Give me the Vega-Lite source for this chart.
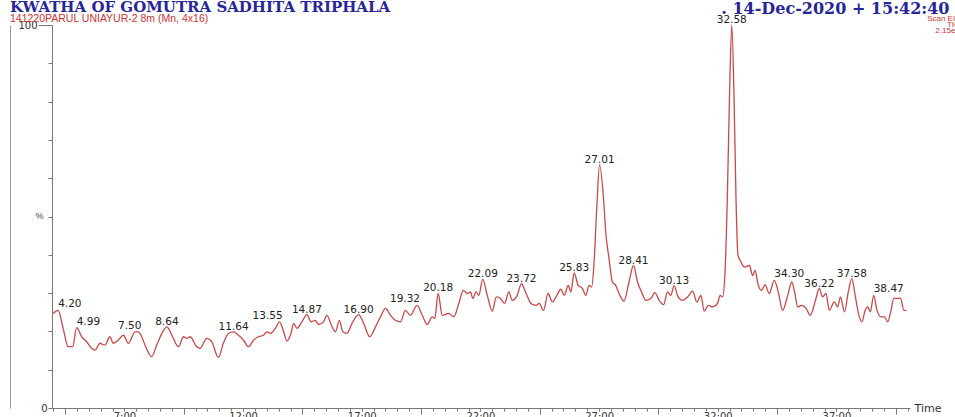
{
  "$schema": "https://vega.github.io/schema/vega-lite/v6.json",
  "width": 858,
  "height": 383,
  "autosize": {"type": "none"},
  "padding": {"left": 52, "top": 25, "right": 45, "bottom": 9},
  "background": "white",
  "config": {"view": {"stroke": null}, "font": "Liberation Sans"},
  "title": {
    "text": "KWATHA OF GOMUTRA SADHITA TRIPHALA",
    "subtitle": "141220PARUL UNIAYUR-2 8m (Mn, 4x16)",
    "anchor": "start",
    "frame": "group",
    "dx": -42,
    "dy": 27,
    "offset": 3,
    "font": "DejaVu Serif",
    "fontWeight": "bold",
    "fontSize": 15,
    "color": "#26269a",
    "subtitleFont": "Liberation Sans",
    "subtitleFontSize": 10.5,
    "subtitleColor": "#cc3333",
    "subtitlePadding": -1
  },
  "datasets": {
    "trace": [
      {"t": 4.00, "v": 24.7}, {"t": 4.21, "v": 25.5}, {"t": 4.42, "v": 20.8}, {"t": 4.63, "v": 16.0}, {"t": 4.82, "v": 16.0},
      {"t": 4.99, "v": 21.0}, {"t": 5.20, "v": 18.6}, {"t": 5.41, "v": 17.3}, {"t": 5.62, "v": 15.6}, {"t": 5.76, "v": 15.1},
      {"t": 5.97, "v": 16.9}, {"t": 6.18, "v": 16.4}, {"t": 6.39, "v": 18.6}, {"t": 6.53, "v": 16.9}, {"t": 6.74, "v": 17.7},
      {"t": 6.96, "v": 19.0}, {"t": 7.17, "v": 16.9}, {"t": 7.45, "v": 19.9}, {"t": 7.59, "v": 19.9}, {"t": 7.73, "v": 18.6},
      {"t": 7.87, "v": 16.4}, {"t": 8.15, "v": 13.4}, {"t": 8.36, "v": 16.4}, {"t": 8.58, "v": 19.5}, {"t": 8.79, "v": 21.2},
      {"t": 9.00, "v": 19.0}, {"t": 9.28, "v": 16.0}, {"t": 9.49, "v": 18.6}, {"t": 9.63, "v": 18.2}, {"t": 9.77, "v": 18.6},
      {"t": 10.05, "v": 16.0}, {"t": 10.19, "v": 15.6}, {"t": 10.47, "v": 18.2}, {"t": 10.68, "v": 17.3}, {"t": 10.96, "v": 13.2},
      {"t": 11.17, "v": 16.9}, {"t": 11.39, "v": 19.5}, {"t": 11.60, "v": 19.9}, {"t": 11.81, "v": 19.0}, {"t": 12.02, "v": 17.7},
      {"t": 12.23, "v": 16.0}, {"t": 12.44, "v": 17.7}, {"t": 12.65, "v": 18.6}, {"t": 12.86, "v": 19.0}, {"t": 13.00, "v": 19.9},
      {"t": 13.15, "v": 19.5}, {"t": 13.36, "v": 20.8}, {"t": 13.54, "v": 22.5}, {"t": 13.71, "v": 19.9}, {"t": 13.85, "v": 17.5},
      {"t": 14.02, "v": 19.5}, {"t": 14.13, "v": 22.1}, {"t": 14.27, "v": 20.8}, {"t": 14.48, "v": 22.5}, {"t": 14.69, "v": 24.4},
      {"t": 14.87, "v": 22.5}, {"t": 15.04, "v": 22.9}, {"t": 15.18, "v": 21.8}, {"t": 15.39, "v": 22.5}, {"t": 15.53, "v": 24.2},
      {"t": 15.75, "v": 21.2}, {"t": 15.89, "v": 19.9}, {"t": 16.06, "v": 22.9}, {"t": 16.20, "v": 19.9}, {"t": 16.38, "v": 19.5},
      {"t": 16.59, "v": 22.1}, {"t": 16.87, "v": 24.4}, {"t": 17.08, "v": 22.1}, {"t": 17.34, "v": 18.6}, {"t": 17.55, "v": 20.8},
      {"t": 17.79, "v": 23.8}, {"t": 18.00, "v": 26.0}, {"t": 18.21, "v": 24.2}, {"t": 18.42, "v": 22.9}, {"t": 18.63, "v": 22.5},
      {"t": 18.84, "v": 25.5}, {"t": 19.05, "v": 24.2}, {"t": 19.33, "v": 26.8}, {"t": 19.55, "v": 24.2}, {"t": 19.76, "v": 21.8},
      {"t": 19.97, "v": 23.8}, {"t": 20.08, "v": 23.4}, {"t": 20.22, "v": 29.9}, {"t": 20.39, "v": 24.2}, {"t": 20.67, "v": 24.7},
      {"t": 20.88, "v": 23.8}, {"t": 21.09, "v": 27.3}, {"t": 21.28, "v": 30.7}, {"t": 21.45, "v": 29.9}, {"t": 21.58, "v": 30.3},
      {"t": 21.68, "v": 28.6}, {"t": 21.82, "v": 30.3}, {"t": 21.93, "v": 29.4}, {"t": 22.10, "v": 33.6}, {"t": 22.29, "v": 29.4},
      {"t": 22.50, "v": 25.3}, {"t": 22.67, "v": 29.0}, {"t": 22.85, "v": 28.6}, {"t": 23.02, "v": 27.3}, {"t": 23.20, "v": 30.3},
      {"t": 23.34, "v": 28.1}, {"t": 23.55, "v": 29.4}, {"t": 23.73, "v": 32.5}, {"t": 23.90, "v": 30.3}, {"t": 24.13, "v": 27.3},
      {"t": 24.34, "v": 26.8}, {"t": 24.48, "v": 27.3}, {"t": 24.66, "v": 25.5}, {"t": 24.85, "v": 29.9}, {"t": 25.04, "v": 27.7},
      {"t": 25.22, "v": 29.4}, {"t": 25.39, "v": 31.0}, {"t": 25.53, "v": 29.4}, {"t": 25.70, "v": 32.0}, {"t": 25.81, "v": 30.3},
      {"t": 25.95, "v": 35.3}, {"t": 26.12, "v": 32.0}, {"t": 26.30, "v": 31.2}, {"t": 26.44, "v": 29.4}, {"t": 26.58, "v": 32.0},
      {"t": 26.69, "v": 31.6}, {"t": 26.79, "v": 38.1}, {"t": 26.90, "v": 51.9}, {"t": 27.02, "v": 63.5}, {"t": 27.19, "v": 54.5},
      {"t": 27.28, "v": 45.9}, {"t": 27.42, "v": 39.0}, {"t": 27.56, "v": 32.9}, {"t": 27.70, "v": 32.0}, {"t": 27.84, "v": 29.9},
      {"t": 28.05, "v": 27.9}, {"t": 28.26, "v": 32.9}, {"t": 28.45, "v": 37.2}, {"t": 28.62, "v": 32.9}, {"t": 28.79, "v": 30.3},
      {"t": 28.97, "v": 28.1}, {"t": 29.18, "v": 28.6}, {"t": 29.35, "v": 30.1}, {"t": 29.53, "v": 28.1}, {"t": 29.72, "v": 27.0},
      {"t": 29.88, "v": 30.3}, {"t": 30.02, "v": 29.4}, {"t": 30.16, "v": 31.9}, {"t": 30.33, "v": 29.0}, {"t": 30.52, "v": 28.1},
      {"t": 30.73, "v": 29.0}, {"t": 30.94, "v": 30.5}, {"t": 31.12, "v": 27.7}, {"t": 31.29, "v": 29.4}, {"t": 31.43, "v": 25.3},
      {"t": 31.60, "v": 26.8}, {"t": 31.78, "v": 26.4}, {"t": 31.99, "v": 27.3}, {"t": 32.10, "v": 29.4}, {"t": 32.20, "v": 29.0},
      {"t": 32.30, "v": 34.6}, {"t": 32.40, "v": 54.0}, {"t": 32.49, "v": 80.0}, {"t": 32.59, "v": 100.0}, {"t": 32.69, "v": 80.0},
      {"t": 32.77, "v": 54.5}, {"t": 32.85, "v": 40.0}, {"t": 32.98, "v": 38.1}, {"t": 33.12, "v": 36.8}, {"t": 33.33, "v": 37.2},
      {"t": 33.47, "v": 34.6}, {"t": 33.57, "v": 35.9}, {"t": 33.71, "v": 32.0}, {"t": 33.85, "v": 30.7}, {"t": 33.99, "v": 32.2},
      {"t": 34.17, "v": 29.9}, {"t": 34.38, "v": 33.3}, {"t": 34.55, "v": 30.3}, {"t": 34.73, "v": 25.5}, {"t": 34.95, "v": 29.4},
      {"t": 35.12, "v": 32.9}, {"t": 35.25, "v": 29.9}, {"t": 35.37, "v": 26.4}, {"t": 35.54, "v": 26.8}, {"t": 35.72, "v": 26.0},
      {"t": 35.90, "v": 24.2}, {"t": 36.10, "v": 27.7}, {"t": 36.28, "v": 31.2}, {"t": 36.42, "v": 29.0}, {"t": 36.56, "v": 29.9},
      {"t": 36.70, "v": 25.5}, {"t": 36.91, "v": 27.7}, {"t": 37.05, "v": 26.4}, {"t": 37.17, "v": 29.0}, {"t": 37.34, "v": 25.1},
      {"t": 37.50, "v": 30.3}, {"t": 37.65, "v": 33.8}, {"t": 37.79, "v": 29.4}, {"t": 37.93, "v": 24.7}, {"t": 38.07, "v": 22.5},
      {"t": 38.21, "v": 25.5}, {"t": 38.32, "v": 26.4}, {"t": 38.43, "v": 25.1}, {"t": 38.57, "v": 29.4}, {"t": 38.71, "v": 25.5},
      {"t": 38.88, "v": 23.8}, {"t": 39.02, "v": 23.8}, {"t": 39.16, "v": 22.5}, {"t": 39.30, "v": 25.5}, {"t": 39.42, "v": 28.7},
      {"t": 39.56, "v": 28.6}, {"t": 39.70, "v": 28.7}, {"t": 39.84, "v": 25.5}, {"t": 39.95, "v": 25.5}
    ],
    "peaks": [
      {"t": 4.21, "v": 25.5, "label": "4.20"},
      {"t": 4.99, "v": 21.0, "label": "4.99"},
      {"t": 7.59, "v": 19.9, "label": "7.50"},
      {"t": 8.79, "v": 21.2, "label": "8.64"},
      {"t": 11.60, "v": 19.9, "label": "11.64"},
      {"t": 13.54, "v": 22.5, "label": "13.55"},
      {"t": 14.69, "v": 24.4, "label": "14.87"},
      {"t": 16.87, "v": 24.4, "label": "16.90"},
      {"t": 19.33, "v": 26.8, "label": "19.32"},
      {"t": 20.22, "v": 29.9, "label": "20.18"},
      {"t": 22.10, "v": 33.6, "label": "22.09"},
      {"t": 23.73, "v": 32.5, "label": "23.72"},
      {"t": 25.95, "v": 35.3, "label": "25.83"},
      {"t": 27.02, "v": 63.5, "label": "27.01"},
      {"t": 28.45, "v": 37.2, "label": "28.41"},
      {"t": 30.16, "v": 31.9, "label": "30.13"},
      {"t": 32.59, "v": 100.0, "label": "32.58"},
      {"t": 34.38, "v": 33.3, "label": "34.30"},
      {"t": 36.28, "v": 31.2, "label": "36.22"},
      {"t": 37.65, "v": 33.8, "label": "37.58"},
      {"t": 38.57, "v": 29.4, "label": "38.47"}
    ],
    "header": [
      {"t": 32.15, "v": 102.9, "label": ". 14-Dec-2020 + 15:42:40", "kind": "date"},
      {"t": 42.2, "v": 101.1, "label": "Scan EI+", "kind": "info"},
      {"t": 42.2, "v": 99.55, "label": "TIC", "kind": "info"},
      {"t": 42.2, "v": 98.0, "label": "2.15e8", "kind": "info"}
    ]
  },
  "resolve": {"axis": {"x": "independent", "y": "independent"}},
  "layer": [
    {
      "data": {"name": "trace"},
      "mark": {"type": "line", "interpolate": "monotone", "color": "#c94848", "strokeWidth": 1.3, "clip": false},
      "encoding": {
        "x": {
          "field": "t", "type": "quantitative",
          "scale": {"domain": [3.95, 40.1], "nice": false, "zero": false},
          "axis": {
            "orient": "bottom",
            "values": [7, 12, 17, 22, 27, 32, 37],
            "format": ".2f",
            "labelExpr": "replace(datum.label, '.', ':')",
            "tickSize": 3,
            "grid": false,
            "domainColor": "#777",
            "tickColor": "#777",
            "labelFont": "DejaVu Sans",
            "labelFontSize": 10,
            "labelColor": "#333",
            "labelPadding": 0,
            "labelOverlap": false,
            "labelFlush": false,
            "title": "Time",
            "titleX": 862,
            "titleY": 0,
            "titleAlign": "left",
            "titleBaseline": "middle",
            "titleFont": "DejaVu Sans",
            "titleFontWeight": "normal",
            "titleFontSize": 11,
            "titleColor": "#333"
          }
        },
        "y": {
          "field": "v", "type": "quantitative",
          "scale": {"domain": [0, 100], "nice": false},
          "axis": {
            "values": [0,10,20,30,40,50,60,70,80,90,100],
            "labelExpr": "datum.value == 0 || datum.value == 100 ? datum.label : ''",
            "tickSize": {"condition": {"test": "datum.value == 100", "value": 14}, "value": 4},
            "grid": false,
            "domainColor": "#777",
            "tickColor": "#777",
            "labelFont": "DejaVu Sans",
            "labelFontSize": 10,
            "labelColor": "#333",
            "labelPadding": 1,
            "labelOverlap": false,
            "title": "%",
            "titleAngle": 0,
            "titleX": -13,
            "titleY": 190,
            "titleAlign": "center",
            "titleBaseline": "middle",
            "titleFontWeight": "normal",
            "titleFontSize": 9,
            "titleColor": "#444"
          }
        }
      }
    },
    {
      "data": {"name": "peaks"},
      "transform": [{"filter": "indexof(['4.20','4.99','7.50','13.55','19.32','34.30','38.47'], datum.label) < 0"}],
      "mark": {"type": "text", "font": "DejaVu Sans", "fontSize": 10.5, "color": "#222", "align": "center", "baseline": "alphabetic", "dy": -2},
      "encoding": {
        "x": {
          "field": "t", "type": "quantitative",
          "axis": {
            "orient": "bottom",
            "values": [4,4.5,5,5.5,6,6.5,7,7.5,8,8.5,9,9.5,10,10.5,11,11.5,12,12.5,13,13.5,14,14.5,15,15.5,16,16.5,17,17.5,18,18.5,19,19.5,20,20.5,21,21.5,22,22.5,23,23.5,24,24.5,25,25.5,26,26.5,27,27.5,28,28.5,29,29.5,30,30.5,31,31.5,32,32.5,33,33.5,34,34.5,35,35.5,36,36.5,37,37.5,38,38.5,39,39.5,40],
            "labels": false,
            "domain": false,
            "grid": false,
            "title": null,
            "tickColor": "#777",
            "tickSize": {"condition": {"test": "(datum.value - 4.5) % 5 == 0", "value": 6}, "value": 3}
          }
        },
        "y": {"field": "v", "type": "quantitative", "axis": {"orient": "left", "offset": 42, "ticks": false, "labels": false, "title": null, "grid": false, "domainColor": "#999"}},
        "text": {"field": "label"}
      }
    },
    {
      "data": {"name": "peaks"},
      "transform": [{"filter": "indexof(['4.20','4.99','34.30','38.47'], datum.label) >= 0"}],
      "mark": {"type": "text", "font": "DejaVu Sans", "fontSize": 10.5, "color": "#222", "align": "left", "baseline": "alphabetic", "dy": -3, "dx": 0},
      "encoding": {
        "x": {"field": "t", "type": "quantitative", "axis": null},
        "y": {"field": "v", "type": "quantitative", "axis": null},
        "text": {"field": "label"}
      }
    },
    {
      "data": {"name": "peaks"},
      "transform": [{"filter": "indexof(['7.50','13.55','19.32'], datum.label) >= 0"}],
      "mark": {"type": "text", "font": "DejaVu Sans", "fontSize": 10.5, "color": "#222", "align": "right", "baseline": "alphabetic", "dy": -3, "dx": 3},
      "encoding": {
        "x": {"field": "t", "type": "quantitative", "axis": null},
        "y": {"field": "v", "type": "quantitative", "axis": null},
        "text": {"field": "label"}
      }
    },
    {
      "data": {"name": "header"},
      "transform": [{"filter": "datum.kind == 'date'"}],
      "mark": {"type": "text", "font": "DejaVu Serif", "fontWeight": "bold", "fontSize": 16, "color": "#26269a", "align": "left", "baseline": "alphabetic"},
      "encoding": {
        "x": {"field": "t", "type": "quantitative", "axis": null},
        "y": {"field": "v", "type": "quantitative", "axis": null},
        "text": {"field": "label"}
      }
    },
    {
      "data": {"name": "header"},
      "transform": [{"filter": "datum.kind == 'info'"}],
      "mark": {"type": "text", "fontSize": 8, "color": "#cc3333", "align": "right", "baseline": "alphabetic"},
      "encoding": {
        "x": {"field": "t", "type": "quantitative", "axis": null},
        "y": {"field": "v", "type": "quantitative", "axis": null},
        "text": {"field": "label"}
      }
    }
  ]
}
